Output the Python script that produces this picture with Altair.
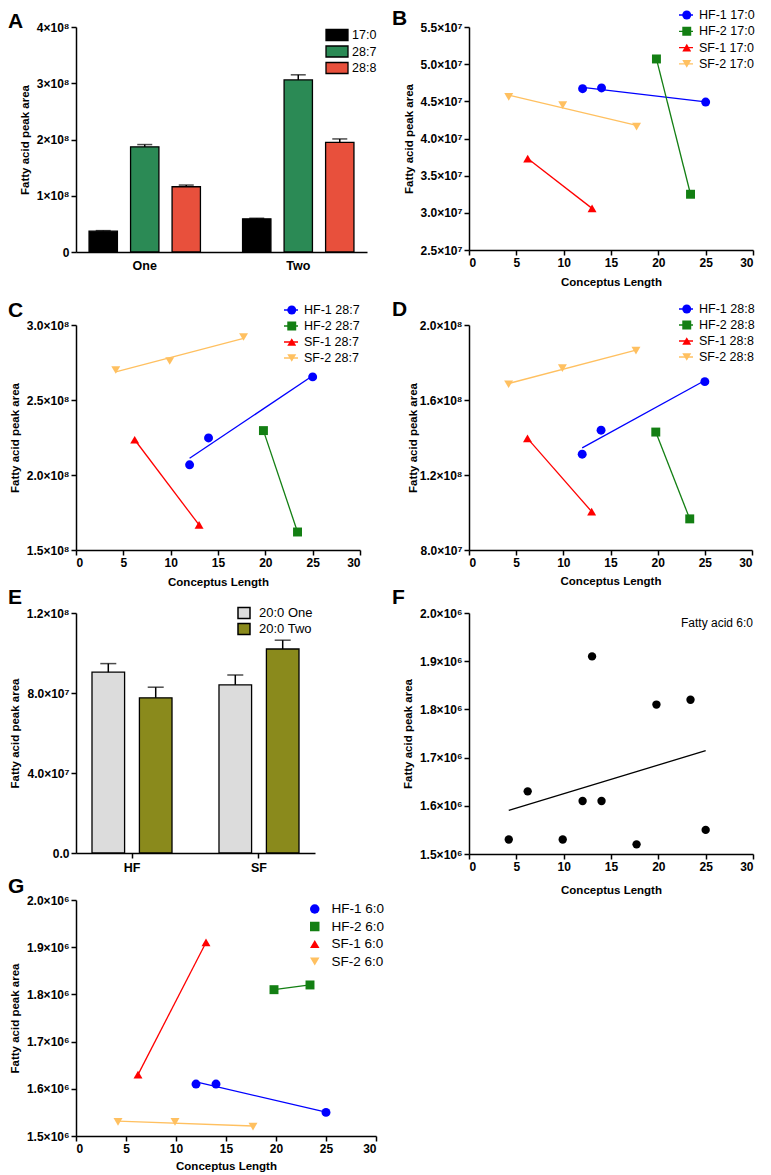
import altair as alt
import pandas as pd

FONT = "Liberation Sans"

# ---------------- Panel A: bar means ----------------
a_groups = ["One", "Two"]
a_series = ["17:0", "28:7", "28:8"]
a_mean_one = [3.7e7, 1.87e8, 1.16e8]
a_sem_one = [0.1e7, 0.4e7, 0.3e7]
a_mean_two = [5.9e7, 3.06e8, 1.95e8]
a_sem_two = [0.1e7, 0.9e7, 0.6e7]
a_colors = ["#000000", "#2b8a55", "#e8503c"]
a_yticks = [0, 1e8, 2e8, 3e8, 4e8]
a_ylabels = ["0", "1×10⁸", "2×10⁸", "3×10⁸", "4×10⁸"]

# ---------------- Panel E: bar means ----------------
e_groups = ["HF", "SF"]
e_series = ["20:0 One", "20:0 Two"]
e_mean_hf = [9.04e7, 7.76e7]
e_sem_hf = [0.43e7, 0.53e7]
e_mean_sf = [8.41e7, 10.2e7]
e_sem_sf = [0.49e7, 0.44e7]
e_colors = ["#dcdcdc", "#8a8a1c"]
e_yticks = [0, 2e7, 4e7, 6e7, 8e7, 1e8, 1.2e8]
e_ylabels = ["0.0", "2.0×10⁷", "4.0×10⁷", "6.0×10⁷", "8.0×10⁷", "1.0×10⁸", "1.2×10⁸"]

# ---------------- Scatter panels (B, C, D, F, G) ----------------
animal = ["HF-1", "HF-1", "HF-1", "HF-2", "HF-2", "SF-1", "SF-1", "SF-2", "SF-2", "SF-2"]
conceptus_length = [12, 14, 25, 19.8, 23.4, 6.2, 13, 4.2, 9.9, 17.7]
fa_17_0 = [4.67e7, 4.68e7, 4.49e7, 5.07e7, 3.25e7, 3.73e7, 3.06e7, 4.56e7, 4.45e7, 4.16e7]
fa_28_7 = [2.068e8, 2.247e8, 2.654e8, 2.296e8, 1.62e8, 2.235e8, 1.667e8, 2.70e8, 2.76e8, 2.92e8]
fa_28_8 = [1.311e8, 1.439e8, 1.698e8, 1.429e8, 0.966e8, 1.395e8, 1.005e8, 1.684e8, 1.77e8, 1.863e8]
fa_6_0 = [1.61e6, 1.61e6, 1.55e6, 1.81e6, 1.82e6, 1.63e6, 1.91e6, 1.53e6, 1.53e6, 1.52e6]

animal_order = ["HF-1", "HF-2", "SF-1", "SF-2"]
animal_colors = ["#0000ff", "#137f13", "#ff0000", "#ffc060"]
animal_shapes = ["circle", "square", "triangle-up", "triangle-down"]

x_ticks = [0, 5, 10, 15, 20, 25, 30]
b_yticks = [2.5e7, 3.0e7, 3.5e7, 4.0e7, 4.5e7, 5.0e7, 5.5e7]
b_ylabels = ["2.5×10⁷", "3.0×10⁷", "3.5×10⁷", "4.0×10⁷", "4.5×10⁷", "5.0×10⁷", "5.5×10⁷"]
c_yticks = [1.5e8, 2.0e8, 2.5e8, 3.0e8]
c_ylabels = ["1.5×10⁸", "2.0×10⁸", "2.5×10⁸", "3.0×10⁸"]
d_yticks = [8e7, 1.2e8, 1.6e8, 2.0e8]
d_ylabels = ["8.0×10⁷", "1.2×10⁸", "1.6×10⁸", "2.0×10⁸"]
g_yticks = [1.5e6, 1.6e6, 1.7e6, 1.8e6, 1.9e6, 2.0e6]
g_ylabels = ["1.5×10⁶", "1.6×10⁶", "1.7×10⁶", "1.8×10⁶", "1.9×10⁶", "2.0×10⁶"]

YTITLE = "Fatty acid peak area"
XTITLE = "Conceptus Length"


def label_expr(vals, labels):
    arr_l = "[" + ",".join("'" + l + "'" for l in labels) + "]"
    arr_v = "[" + ",".join(str(float(v)) for v in vals) + "]"
    return f"{arr_l}[indexof({arr_v}, datum.value)]"


def y_axis(vals, labels, title_x, h):
    return alt.Axis(values=vals, labelExpr=label_expr(vals, labels), title=YTITLE,
                    titleX=title_x, titleY=h / 2, titleAngle=270, titleAlign="center",
                    titleBaseline="middle", grid=False)


def letter_layer(letter, dx, dy):
    return alt.Chart(pd.DataFrame({"t": [letter]})).mark_text(
        align="left", baseline="alphabetic", fontSize=21, fontWeight="bold",
        font=FONT, color="black").encode(text="t:N", x=alt.value(dx), y=alt.value(dy))


def bar_panel(groups, series, means, sems, colors, yticks, ylabels, ymax, width, height,
              pad_in, pad_out, off_pad_in, cap, title_x, leg, letter, lxy, show_ticks,
              label_pad, sym_path, sym_size, sym_stroke):
    df = pd.DataFrame({
        "group": [g for g in groups for _ in series],
        "series": series * len(groups),
        "mean": means,
        "sem": sems,
    })
    xenc = alt.X("group:N", sort=groups,
                 scale=alt.Scale(type="band", paddingInner=pad_in, paddingOuter=pad_out),
                 axis=alt.Axis(title=None, labelAngle=0, ticks=show_ticks, tickSize=5,
                               labelPadding=label_pad, labelFontSize=12.5))
    xoff = alt.XOffset("series:N", sort=series,
                       scale=alt.Scale(type="band", domain=series,
                                       paddingInner=off_pad_in, paddingOuter=0))
    yscale = alt.Scale(domain=[0, ymax], nice=False)
    base = alt.Chart(df).encode(x=xenc, xOffset=xoff)
    bars = base.mark_bar(stroke="black", strokeWidth=1.3).encode(
        y=alt.Y("mean:Q", scale=yscale, axis=y_axis(yticks, ylabels, title_x, height)),
        color=alt.Color("series:N", sort=series,
                        scale=alt.Scale(domain=series, range=colors),
                        legend=alt.Legend(orient="none", title=None, legendX=leg[0], legendY=leg[1],
                                          symbolType=sym_path, symbolSize=sym_size,
                                          symbolStrokeColor="black", symbolStrokeWidth=sym_stroke,
                                          symbolOpacity=1, labelFontSize=leg[2],
                                          labelOffset=leg[3], clipHeight=14,
                                          rowPadding=leg[4], labelFont=FONT)),
    )
    topped = base.transform_calculate(top="datum.mean + datum.sem")
    err = topped.mark_rule(color="black", strokeWidth=1.5).encode(
        y=alt.Y("mean:Q", scale=yscale), y2="top:Q")
    capm = topped.mark_tick(color="black", thickness=1.5, size=cap).encode(
        y=alt.Y("top:Q", scale=yscale))
    return alt.layer(bars, err, capm, letter_layer(letter, lxy[0], lxy[1])).properties(
        width=width, height=height)


def scatter_panel(fa_name, values, yticks, ylabels, ydomain, width, height, title_x, title_y,
                  letter, lxy, leg=None, legend_lines=True):
    labels = [a + " " + fa_name for a in animal_order]
    df = pd.DataFrame({
        "series": [a + " " + fa_name for a in animal],
        "x": conceptus_length,
        "y": values,
    })
    xenc = alt.X("x:Q", scale=alt.Scale(domain=[0, 30], nice=False),
                 axis=alt.Axis(values=x_ticks, title=XTITLE, titleY=title_y,
                               titleBaseline="middle", grid=False))
    yscale = alt.Scale(domain=ydomain, nice=False, zero=False)
    yenc = alt.Y("y:Q", scale=yscale, axis=y_axis(yticks, ylabels, title_x, height))
    cscale = alt.Scale(domain=labels, range=animal_colors)
    sscale = alt.Scale(domain=labels, range=animal_shapes)
    # leg = (sym_center_x, first_row_center_y, row_step, label_left_x, font_size)
    line_len = 14
    clip_h = 14
    if legend_lines:
        line_leg = alt.Legend(orient="none", title=None,
                              legendX=leg[0] - line_len / 2, legendY=leg[1] - clip_h / 2,
                              symbolType="stroke", symbolSize=line_len * line_len,
                              symbolStrokeWidth=1.3, clipHeight=clip_h,
                              rowPadding=leg[2] - clip_h, labelFontSize=leg[4],
                              labelOffset=leg[3] - (leg[0] + line_len / 2), labelFont=FONT)
        pt_leg = alt.Legend(orient="none", title=None,
                            legendX=leg[0] - line_len / 2, legendY=leg[1] - clip_h / 2,
                            symbolSize=80, symbolOffset=(line_len - 9) / 2, clipHeight=clip_h,
                            rowPadding=leg[2] - clip_h, labelOpacity=0, labelFontSize=leg[4],
                            labelFont=FONT)
    else:
        line_leg = None
        pt_leg = alt.Legend(orient="none", title=None,
                            legendX=leg[0] - 5, legendY=leg[1] - clip_h / 2,
                            symbolSize=90, clipHeight=clip_h,
                            rowPadding=leg[2] - clip_h, labelFontSize=leg[4],
                            labelOffset=leg[3] - (leg[0] + 5), labelFont=FONT)
    line = alt.Chart(df).transform_regression("x", "y", groupby=["series"]).mark_line(
        strokeWidth=1.3).encode(
        x=xenc, y=yenc,
        color=alt.Color("series:N", scale=cscale, legend=line_leg))
    pts = alt.Chart(df).mark_point(filled=True, size=80, opacity=1).encode(
        x=xenc, y=yenc,
        color=alt.Color("series:N", scale=cscale, legend=pt_leg),
        shape=alt.Shape("series:N", scale=sscale, legend=pt_leg))
    return alt.layer(line, pts, letter_layer(letter, lxy[0], lxy[1])).resolve_legend(
        color="independent", shape="independent").properties(width=width, height=height)


# ---------------- build panels ----------------
A = bar_panel(a_groups, a_series, a_mean_one + a_mean_two, a_sem_one + a_sem_two, a_colors,
              a_yticks, a_ylabels, 4e8, 291, 225, 0.2745, 0.085, 0.317, 15, -51,
              (249, 1, 12.5, 3, 2.5), "A", (-68, 1), False, 7,
              "M-1,-0.5L1,-0.5L1,0.5L-1,0.5Z", 484, 1.3)

B = scatter_panel("17:0", fa_17_0, b_yticks, b_ylabels, [2.5e7, 5.5e7], 284, 223, -60, 32,
                  "B", (-77, -2), leg=(216, -12, 16.3, 228, 12.5))
C = scatter_panel("28:7", fa_28_7, c_yticks, c_ylabels, [1.5e8, 3.0e8], 284, 225, -61, 32,
                  "C", (-68, -8), leg=(214, -15, 16, 226, 12.5))
D = scatter_panel("28:8", fa_28_8, d_yticks, d_ylabels, [8e7, 2.0e8], 283, 225, -56, 31,
                  "D", (-77, -9), leg=(216, -16, 16, 228, 12.5))

E = bar_panel(e_groups, e_series, e_mean_hf + e_mean_sf, e_sem_hf + e_sem_sf, e_colors,
              e_yticks, e_ylabels, 1.2e8, 239, 240, 0.37, 0.126, 0.3125, 16, -61,
              (161, -7, 13, 8, 2), "E", (-68, -9), True, 3,
              "M-1,-0.9L1,-0.9L1,0.9L-1,0.9Z", 144, 1.5)

# Panel F: all points pooled, black, single regression
f_df = pd.DataFrame({"x": conceptus_length, "y": fa_6_0})
f_x = alt.X("x:Q", scale=alt.Scale(domain=[0, 30], nice=False),
            axis=alt.Axis(values=x_ticks, title=XTITLE, titleY=36, titleBaseline="middle", grid=False))
f_y = alt.Y("y:Q", scale=alt.Scale(domain=[1.5e6, 2.0e6], nice=False, zero=False),
            axis=y_axis(g_yticks, g_ylabels, -61, 241))
F = alt.layer(
    alt.Chart(f_df).transform_regression("x", "y").mark_line(color="black", strokeWidth=1.3).encode(x=f_x, y=f_y),
    alt.Chart(f_df).mark_point(filled=True, size=70, opacity=1, color="black").encode(x=f_x, y=f_y),
    alt.Chart(pd.DataFrame({"t": ["Fatty acid 6:0"]})).mark_text(
        align="right", baseline="middle", fontSize=12, font=FONT, color="black").encode(
        text="t:N", x=alt.value(284), y=alt.value(10)),
    letter_layer("F", -77, -9),
).properties(width=284, height=241)

G = scatter_panel("6:0", fa_6_0, g_yticks, g_ylabels, [1.5e6, 2.0e6], 300, 236, -61, 30,
                  "G", (-68, -7), leg=(237, 9, 17.5, 252, 13.5), legend_lines=False)


def spacer(h):
    return alt.Chart(pd.DataFrame({"a": [0]})).mark_point(opacity=0).encode(
        x=alt.value(0), y=alt.value(0)).properties(width=1, height=h)


chart = alt.concat(
    A, B,
    spacer(73), spacer(73),
    C, D,
    spacer(63), spacer(63),
    E, F,
    spacer(46), spacer(46),
    G,
    columns=2, spacing={"row": 0, "column": 93}, bounds="flush", align="each",
).resolve_scale(color="independent", shape="independent", xOffset="independent").resolve_legend(
    color="independent", shape="independent"
).properties(padding=0).configure_view(stroke=None).configure_axis(
    domainColor="black", domainWidth=1.5, tickColor="black", tickWidth=1.5, tickSize=5,
    labelFont=FONT, labelFontWeight="bold", labelFontSize=12, labelColor="black", labelPadding=2,
    titleFont=FONT, titleFontWeight="bold", titleFontSize=11.5, titleColor="black",
).configure_legend(padding=0, labelColor="black", labelFont=FONT)

chart.save("out.html", embed_options={"renderer": "svg", "actions": False})
